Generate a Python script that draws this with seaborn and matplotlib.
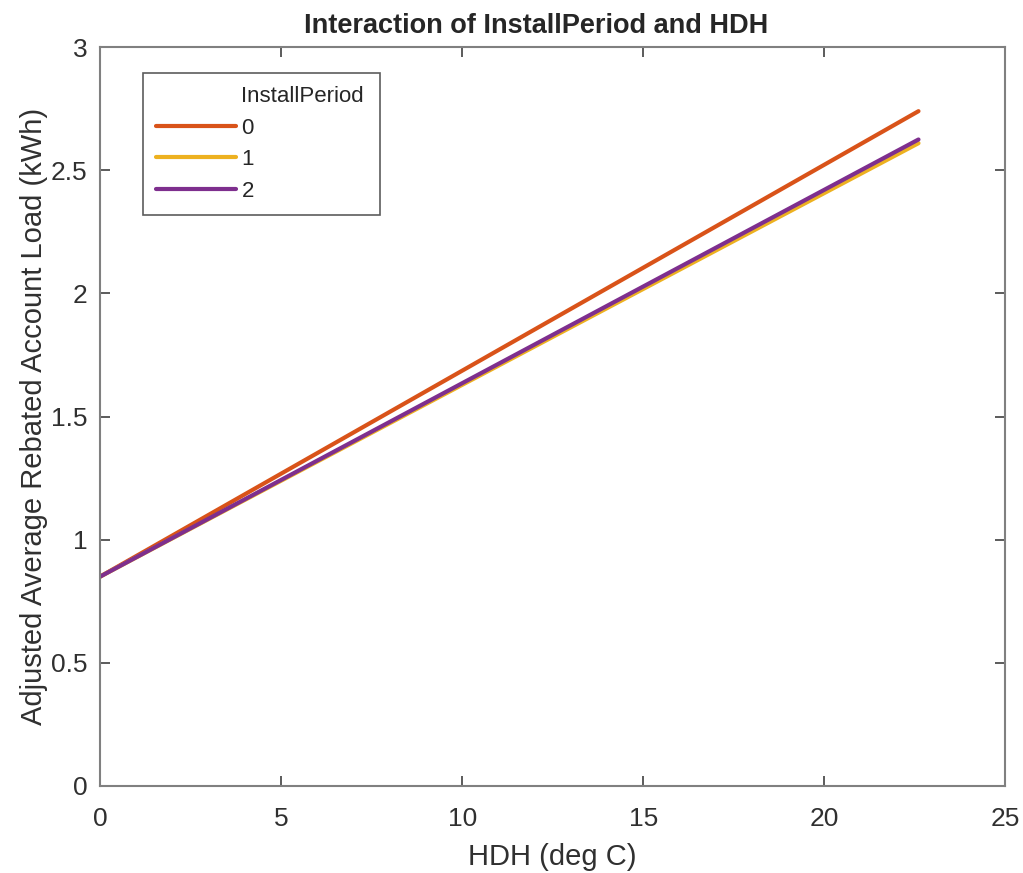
import matplotlib
matplotlib.use("Agg")
import matplotlib.pyplot as plt
from matplotlib.lines import Line2D
import seaborn as sns
import pandas as pd

hdh = [0.0, 22.6]
period_0 = [0.85, 2.74]
period_1 = [0.85, 2.61]
period_2 = [0.85, 2.625]
periods = ["0", "1", "2"]

rows = []
for p, vals in zip(periods, [period_0, period_1, period_2]):
    for x, y in zip(hdh, vals):
        rows.append({"HDH": x, "Load": y, "InstallPeriod": p})
df = pd.DataFrame(rows)

sns.set_style("white")
plt.rcParams['font.family'] = ['Liberation Sans', 'DejaVu Sans']

fig = plt.figure(figsize=(10.23, 8.73), dpi=100)
ax = fig.add_axes([0.0978, 0.0997, 0.885, 0.8463])
palette = {"0": "#D95319", "1": "#EDB120", "2": "#7E2F8E"}
sns.lineplot(data=df, x="HDH", y="Load", hue="InstallPeriod", palette=palette,
             linewidth=3, ax=ax)

ax.set_xlim(0, 25)
ax.set_ylim(0, 3)
ax.set_xticks([0, 5, 10, 15, 20, 25])
ax.set_yticks([0, 0.5, 1, 1.5, 2, 2.5, 3])
ax.set_yticklabels(["0", "0.5", "1", "1.5", "2", "2.5", "3"])
for s in ax.spines.values():
    s.set_color("#808080")
    s.set_linewidth(1.5)
ax.tick_params(direction="in", length=7, width=1.2, color="#404040",
               labelsize=19, labelcolor="#303030", top=True, right=True,
               bottom=True, left=True)
ax.tick_params(axis="x", pad=15)
ax.tick_params(axis="y", pad=9)
ax.set_xlabel("HDH (deg C)", fontsize=21, color="#303030", labelpad=9)
ax.set_ylabel("Adjusted Average Rebated Account Load (kWh)", fontsize=21,
              color="#303030", labelpad=2)
ax.set_title("Interaction of InstallPeriod and HDH", fontsize=19.5,
             fontweight="bold", pad=10, x=0.482)

handles, labels = ax.get_legend_handles_labels()
ax.get_legend().remove()
title_handle = Line2D([], [], linestyle="none")
leg = ax.legend([title_handle] + handles, ["InstallPeriod"] + labels,
                loc="upper left",
                bbox_to_anchor=(0.047, 0.965, 0.262, 0.0), mode="expand",
                fontsize=16, frameon=True, fancybox=False,
                handlelength=3.6, handletextpad=0.25, borderpad=0.6,
                labelspacing=0.47, borderaxespad=0)
leg.get_frame().set_edgecolor("#333333")
leg.get_frame().set_linewidth(1.2)

fig.savefig("out.png", dpi=100)
